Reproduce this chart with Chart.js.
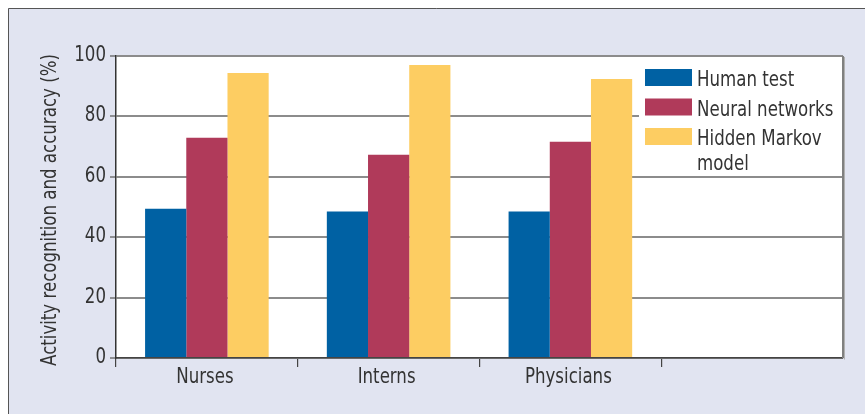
<!DOCTYPE html>
<html>
<head>
<meta charset="utf-8">
<script src="https://cdn.jsdelivr.net/npm/chart.js@4.4.1/dist/chart.umd.min.js"></script>
<style>
  html, body { margin: 0; padding: 0; background: #fff; }
  #wrap { width: 865px; height: 414px; }
</style>
</head>
<body>
<div id="wrap"><canvas id="myChart" width="865" height="414"></canvas></div>
<script>
// data
const categories = ['Nurses', 'Interns', 'Physicians', ''];
const seriesNames = ['Human test', 'Neural networks', 'Hidden Markov model'];
const humanTest = [49.4, 48.5, 48.5, null];
const neuralNetworks = [72.9, 67.3, 71.6, null];
const hiddenMarkov = [94.4, 97.0, 92.4, null];
const yTicks = [0, 20, 40, 60, 80, 100];
const yTitle = 'Activity recognition and accuracy (%)';

const colors = ['#0061a3', '#b03a5a', '#fdcd62'];
const FONT = '"DejaVu Sans Condensed", "Liberation Sans", sans-serif';
const TEXT = '#333333';
const SQUEEZE = 0.84; // the original uses a condensed face, squeeze to match

function narrowText(ctx, text, x, y, align, rot) {
    ctx.save();
    ctx.translate(x, y);
    if (rot) ctx.rotate(rot);
    ctx.scale(SQUEEZE, 1);
    ctx.textAlign = align;
    ctx.fillText(text, 0, 0);
    ctx.restore();
}

// background, frame and plot box
const frame = {
    id: 'frame',
    beforeDraw(chart) {
        const ctx = chart.ctx;
        const a = chart.chartArea;
        ctx.save();
        ctx.fillStyle = '#ffffff';
        ctx.fillRect(0, 0, chart.width, chart.height);
        ctx.fillStyle = '#e1e4f1';
        ctx.fillRect(8, 8, chart.width, chart.height);
        ctx.strokeStyle = '#555555';
        ctx.lineWidth = 1;
        ctx.beginPath();
        ctx.moveTo(8.5, chart.height);
        ctx.lineTo(8.5, 8.5);
        ctx.lineTo(chart.width, 8.5);
        ctx.stroke();
        ctx.fillStyle = '#ffffff';
        ctx.fillRect(a.left, a.top, a.right - a.left, a.bottom - a.top);
        ctx.restore();
    },
    afterDraw(chart) {
        const ctx = chart.ctx;
        const a = chart.chartArea;
        ctx.save();
        ctx.strokeStyle = '#b0b0b0';
        ctx.lineWidth = 1;
        ctx.beginPath();
        ctx.moveTo(a.right + 1.5, a.top + 1);
        ctx.lineTo(a.right + 1.5, a.bottom + 1.5);
        ctx.stroke();
        ctx.strokeStyle = '#808080';
        ctx.lineWidth = 2;
        ctx.beginPath();
        ctx.moveTo(a.right, a.top);
        ctx.lineTo(a.right, a.bottom);
        ctx.stroke();

        // axis labels and title
        const xs = chart.scales.x;
        const ys = chart.scales.y;
        ctx.fillStyle = TEXT;
        ctx.font = '22px ' + FONT;
        ctx.textBaseline = 'alphabetic';
        yTicks.forEach(v => {
            narrowText(ctx, String(v), 106, ys.getPixelForValue(v) + 5, 'right');
        });
        categories.forEach((c, i) => {
            if (c) narrowText(ctx, c, xs.getPixelForValue(i) - 2, 383, 'center');
        });
        narrowText(ctx, yTitle, 56, (a.top + a.bottom) / 2 + 3, 'center', -Math.PI / 2);
        ctx.restore();
    }
};

function wrapText(ctx, text, maxW) {
    const words = text.split(' ');
    const lines = [];
    let line = '';
    words.forEach(w => {
        const test = line ? line + ' ' + w : w;
        if (line && ctx.measureText(test).width * SQUEEZE > maxW) {
            lines.push(line);
            line = w;
        } else {
            line = test;
        }
    });
    lines.push(line);
    return lines;
}

// legend drawn inside the plot, with wrapped labels
const boxLegend = {
    id: 'boxLegend',
    afterDatasetsDraw(chart) {
        const ctx = chart.ctx;
        const a = chart.chartArea;
        ctx.save();
        ctx.fillStyle = '#ffffff';
        ctx.fillRect(639, a.top + 2, a.right - 640, 114);
        ctx.font = '22px ' + FONT;
        ctx.textBaseline = 'alphabetic';
        let y = 69;
        chart.data.datasets.forEach(ds => {
            ctx.fillStyle = ds.backgroundColor;
            ctx.fillRect(645, y, 47, 17);
            ctx.fillStyle = TEXT;
            const lines = wrapText(ctx, ds.label, 140);
            lines.forEach((ln, i) => {
                narrowText(ctx, ln, 697, y + 17 + i * 24.5, 'left');
            });
            y += 29.5;
        });
        ctx.restore();
    }
};

const ctx = document.getElementById('myChart').getContext('2d');

const myChart = new Chart(ctx, {
    type: 'bar',
    data: {
        labels: categories,
        datasets: [
            { label: seriesNames[0], data: humanTest, backgroundColor: colors[0] },
            { label: seriesNames[1], data: neuralNetworks, backgroundColor: colors[1] },
            { label: seriesNames[2], data: hiddenMarkov, backgroundColor: colors[2] }
        ]
    },
    options: {
        responsive: false,
        animation: false,
        layout: { padding: { top: 56, right: 22, left: 8, bottom: 0 } },
        datasets: {
            bar: { categoryPercentage: 0.68, barPercentage: 1.0, borderWidth: 0 }
        },
        plugins: {
            legend: { display: false },
            tooltip: { enabled: false }
        },
        scales: {
            x: {
                type: 'category',
                grid: {
                    offset: true,
                    drawOnChartArea: false,
                    drawTicks: true,
                    tickLength: 9,
                    color: c => c.tick ? '#444444' : 'rgba(0,0,0,0)',
                    lineWidth: 1.2
                },
                border: { display: true, color: '#444444', width: 1.5 },
                ticks: { display: false },
                afterFit(scale) { scale.height = 56; }
            },
            y: {
                min: 0,
                max: 100,
                afterBuildTicks(scale) {
                    scale.ticks = yTicks.map(v => ({ value: v }));
                },
                grid: {
                    color: '#8c8c8c',
                    lineWidth: 2,
                    tickLength: 6,
                    tickColor: '#555555',
                    tickWidth: 1.2
                },
                border: { display: true, color: '#333333', width: 1.5 },
                ticks: { display: false },
                afterFit(scale) { scale.width = 108; }
            }
        }
    },
    plugins: [frame, boxLegend]
});
</script>
</body>
</html>
